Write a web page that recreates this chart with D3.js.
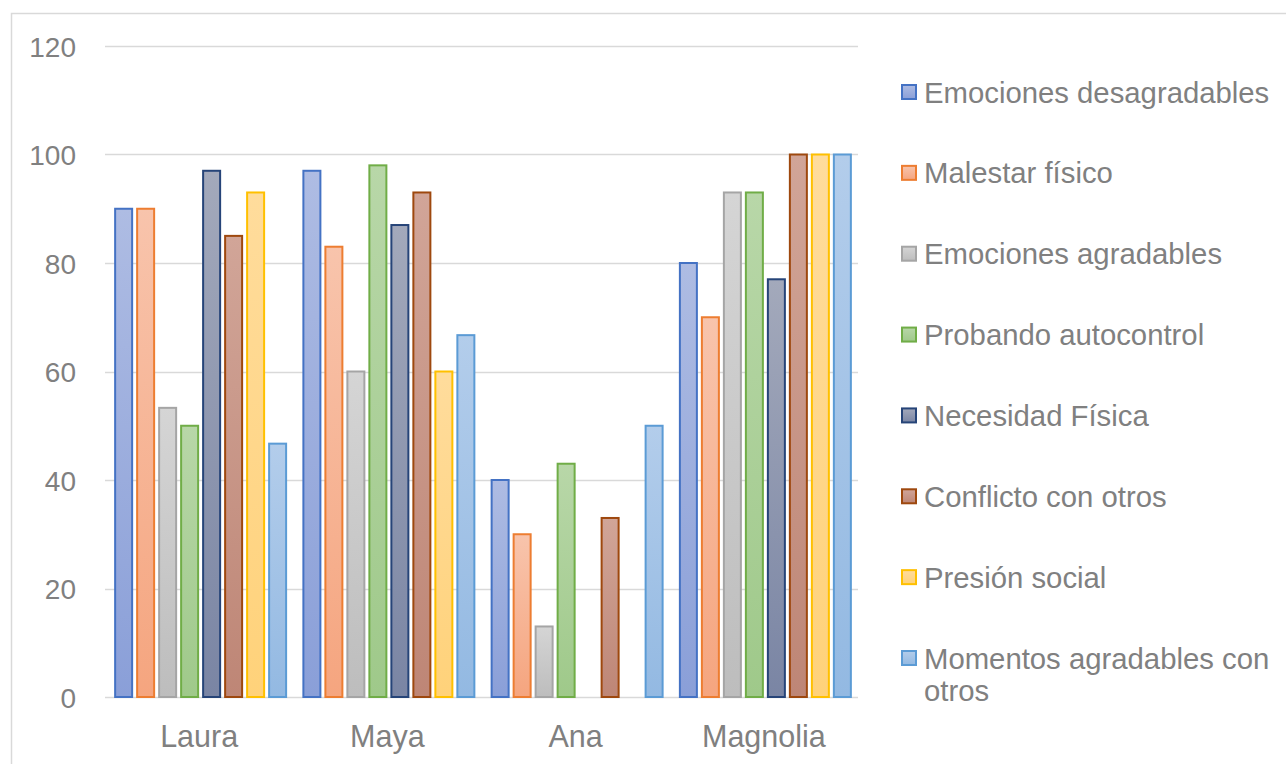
<!DOCTYPE html>
<html>
<head>
<meta charset="utf-8">
<script src="https://cdn.jsdelivr.net/npm/d3@7"></script>
<style>
  html, body { margin: 0; padding: 0; background: #fff; }
  svg { display: block; font-family: "Liberation Sans", Arial, sans-serif; }
</style>
</head>
<body>
<svg id="chart" width="1286" height="764"></svg>
<script>
// Categories (people) and the tick values of the value axis
const categories = ["Laura", "Maya", "Ana", "Magnolia"];
const yTicks = [0, 20, 40, 60, 80, 100, 120];

// One array per series, in category order
const seriesNames = [
  "Emociones desagradables",
  "Malestar físico",
  "Emociones agradables",
  "Probando autocontrol",
  "Necesidad Física",
  "Conflicto con otros",
  "Presión social",
  "Momentos agradables con otros"
];
const emocionesDesagradables = [90, 97, 40, 80];
const malestarFisico = [90, 83, 30, 70];
const emocionesAgradables = [53.3, 60, 13, 93];
const probandoAutocontrol = [50, 98, 43, 93];
const necesidadFisica = [97, 87, 0, 77];
const conflictoConOtros = [85, 93, 33, 100];
const presionSocial = [93, 60, 0, 100];
const momentosAgradables = [46.7, 66.7, 50, 100];

const seriesValues = [
  emocionesDesagradables, malestarFisico, emocionesAgradables, probandoAutocontrol,
  necesidadFisica, conflictoConOtros, presionSocial, momentosAgradables
];

// Outline colour and top/bottom gradient stops for each series
const strokeColors = ["#4472C4", "#ED7D31", "#A5A5A5", "#70AD47", "#264478", "#9E480E", "#FFC000", "#5B9BD5"];
const fillTop      = ["#AEBCE3", "#F8C4AC", "#D5D5D5", "#B8D7A8", "#A3A9BB", "#D1A598", "#FFDC9C", "#B3CDEB"];
const fillBottom   = ["#8A9FD8", "#F5A57F", "#BDBDBD", "#9FC98A", "#7A85A4", "#BE8676", "#FFD27A", "#93B9E2"];

const svg = d3.select("#chart");
const textColor = "#808080";
const gridColor = "#D9D9D9";

// Chart area frame
svg.append("rect")
  .attr("x", 11.5).attr("y", 13.5)
  .attr("width", 1300).attr("height", 800)
  .attr("fill", "none").attr("stroke", gridColor).attr("stroke-width", 1.5);

// Gradients
const defs = svg.append("defs");
seriesNames.forEach((s, i) => {
  const g = defs.append("linearGradient")
    .attr("id", "grad" + i)
    .attr("x1", 0).attr("y1", 0).attr("x2", 0).attr("y2", 1);
  g.append("stop").attr("offset", "0%").attr("stop-color", fillTop[i]);
  g.append("stop").attr("offset", "100%").attr("stop-color", fillBottom[i]);
});

// Scales
const plotLeft = 105, plotRight = 858, plotTop = 46, plotBottom = 697;
const x0 = d3.scaleBand().domain(categories).range([plotLeft, plotRight]).padding(0);
const x1 = d3.scaleBand().domain(d3.range(seriesNames.length))
  .range([1.5, x0.bandwidth() + 1.5]).paddingInner(0.136).paddingOuter(0.347);
const y = d3.scaleLinear().domain([0, 120]).range([plotBottom, plotTop]);

// Horizontal gridlines
svg.append("g")
  .selectAll("line")
  .data(yTicks)
  .join("line")
  .attr("x1", plotLeft).attr("x2", plotRight)
  .attr("y1", d => Math.round(y(d)) + 0.5).attr("y2", d => Math.round(y(d)) + 0.5)
  .attr("stroke", gridColor).attr("stroke-width", 1.5);

// Value axis labels
const yAxis = d3.axisLeft(y).tickValues(yTicks).tickSize(0).tickPadding(0);
const yAxisG = svg.append("g").attr("transform", "translate(76,0)").call(yAxis);
yAxisG.select(".domain").remove();
yAxisG.selectAll("text")
  .attr("fill", textColor)
  .attr("font-size", 28)
  .attr("font-family", "'Liberation Sans', Arial, sans-serif")
  .attr("dy", "0.36em");

// Bars
const groups = svg.append("g")
  .selectAll("g")
  .data(categories)
  .join("g")
  .attr("transform", d => `translate(${x0(d)},0)`);

groups.selectAll("rect")
  .data((c, ci) => seriesValues.map((vals, si) => ({ si, v: vals[ci] })))
  .join("rect")
  .attr("x", d => x1(d.si) + 1)
  .attr("y", d => y(d.v))
  .attr("width", x1.bandwidth() - 2)
  .attr("height", d => y(0) - y(d.v))
  .attr("fill", d => `url(#grad${d.si})`)
  .attr("stroke", d => d.v > 0 ? strokeColors[d.si] : "none")
  .attr("stroke-width", 2);

// Category axis labels
const xAxis = d3.axisBottom(x0).tickSize(0).tickPadding(0);
const xAxisG = svg.append("g").attr("transform", `translate(0,${plotBottom})`).call(xAxis);
xAxisG.select(".domain").remove();
xAxisG.selectAll("text")
  .attr("fill", textColor)
  .attr("font-size", 30.5)
  .attr("font-family", "'Liberation Sans', Arial, sans-serif")
  .attr("dy", null)
  .attr("y", 50);

// Legend
const legendRowY = d3.scalePoint().domain(d3.range(seriesNames.length)).range([92, 658]);
const legend = svg.append("g")
  .selectAll("g")
  .data(seriesNames)
  .join("g")
  .attr("transform", (d, i) => `translate(901,${legendRowY(i)})`);

legend.append("rect")
  .attr("x", 1).attr("y", -7)
  .attr("width", 14).attr("height", 14)
  .attr("fill", (d, i) => `url(#grad${i})`)
  .attr("stroke", (d, i) => strokeColors[i])
  .attr("stroke-width", 2);

legend.append("text")
  .attr("x", 23)
  .attr("fill", textColor)
  .attr("font-size", 29.3)
  .each(function (d) {
    const t = d3.select(this);
    const lines = d === "Momentos agradables con otros" ? ["Momentos agradables con", "otros"] : [d];
    lines.forEach((ln, k) => {
      t.append("tspan").attr("x", 23).attr("dy", k === 0 ? "0.36em" : 32).text(ln);
    });
  });
</script>
</body>
</html>
